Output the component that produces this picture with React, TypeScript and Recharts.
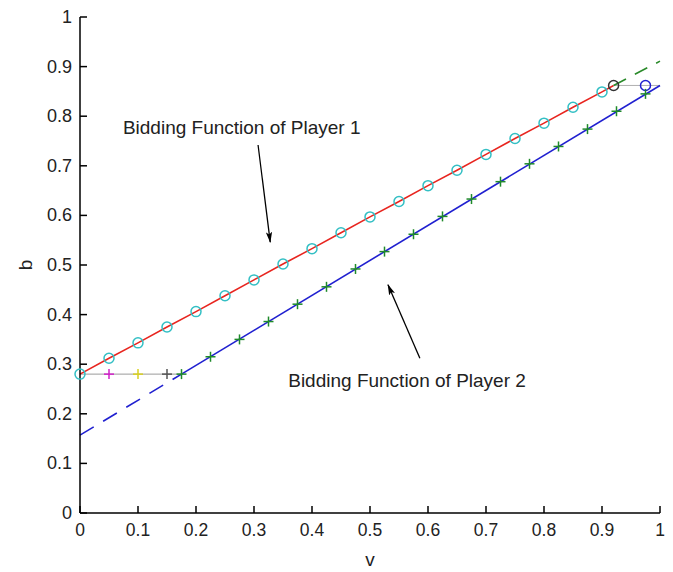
import React from 'react';
import { ComposedChart, Line, Scatter, XAxis, YAxis, ReferenceLine, ReferenceDot } from 'recharts';

const FONT = '"Liberation Sans", Arial, Helvetica, sans-serif';

// tick values and labels
const xTicks = [0, 0.1, 0.2, 0.3, 0.4, 0.5, 0.6, 0.7, 0.8, 0.9, 1];
const xLabels = ['0', '0.1', '0.2', '0.3', '0.4', '0.5', '0.6', '0.7', '0.8', '0.9', '1'];
const yTicks = [0, 0.1, 0.2, 0.3, 0.4, 0.5, 0.6, 0.7, 0.8, 0.9, 1];
const yLabels = ['0', '0.1', '0.2', '0.3', '0.4', '0.5', '0.6', '0.7', '0.8', '0.9', '1'];

// Player 1 bidding function (red) with cyan circles
const p1V = [0, 0.05, 0.1, 0.15, 0.2, 0.25, 0.3, 0.35, 0.4, 0.45, 0.5, 0.55, 0.6, 0.65, 0.7, 0.75, 0.8, 0.85, 0.9];
const p1B = [0.28, 0.312, 0.343, 0.375, 0.406, 0.438, 0.47, 0.502, 0.533, 0.565, 0.597, 0.628, 0.66, 0.691, 0.723, 0.755, 0.786, 0.818, 0.849];
const p1EndV = 0.92;
const p1EndB = 0.862;

// green dashed continuation of player 1
const p1ExtV = [0.92, 1];
const p1ExtB = [0.862, 0.911];

// grey cap line at the top
const capV = [0.92, 1];
const capB = [0.862, 0.862];
const blueCircleV = 0.975;
const blueCircleB = 0.862;

// Player 2 bidding function (blue)
const p2DashV = [0, 0.175];
const p2DashB = [0.157, 0.28];
const p2V = [0.175, 0.225, 0.275, 0.325, 0.375, 0.425, 0.475, 0.525, 0.575, 0.625, 0.675, 0.725, 0.775, 0.825, 0.875, 0.925, 0.975];
const p2B = [0.28, 0.315, 0.35, 0.386, 0.421, 0.456, 0.492, 0.527, 0.562, 0.598, 0.633, 0.668, 0.704, 0.739, 0.774, 0.81, 0.845];
const p2LineV = [0.175, 1];
const p2LineB = [0.28, 0.862];

// flat part at b = 0.28
const flatV = [0, 0.175];
const flatB = [0.28, 0.28];
const flatMarkV = [0.05, 0.1, 0.15];
const flatMarkB = [0.28, 0.28, 0.28];
const flatMarkColors = ['#d020c8', '#d8d020', '#555555'];

const zip = (xs: number[], ys: number[]) => xs.map((x, i) => ({ x, y: ys[i] }));

const p1Data = zip([...p1V, p1EndV], [...p1B, p1EndB]);
const p1Circles = zip(p1V, p1B);

const Tick = ({ x, y, payload, side }: any) => {
  const i = payload.index;
  if (side === 'left') {
    const ax = x + 8;
    return (
      <g>
        <line x1={ax} x2={ax + 7} y1={y} y2={y} stroke="#000" strokeWidth={1.5} />
        <text x={x} y={y} dy={6} textAnchor="end" fontSize={18} fill="#222" fontFamily={FONT}>{yLabels[i]}</text>
      </g>
    );
  }
  if (side === 'bottom') {
    const ay = y - 8;
    return (
      <g>
        <line x1={x} x2={x} y1={ay} y2={ay - 7} stroke="#000" strokeWidth={1.5} />
        <text x={x} y={y} dy={15} textAnchor="middle" fontSize={17.5} fill="#222" fontFamily={FONT}>{xLabels[i]}</text>
      </g>
    );
  }
  if (side === 'top') {
    return <line x1={x} x2={x} y1={y} y2={y + 7} stroke="#000" strokeWidth={1.5} />;
  }
  return <line x1={x} x2={x - 7} y1={y} y2={y} stroke="#000" strokeWidth={1.5} />;
};

const circle = (color: string) => (props: any) => (
  <circle cx={props.cx} cy={props.cy} r={5} fill="none" stroke={color} strokeWidth={1.5} />
);

const plus = (color: string) => (props: any) => (
  <g stroke={color} strokeWidth={1.5}>
    <line x1={props.cx - 5} x2={props.cx + 5} y1={props.cy} y2={props.cy} />
    <line x1={props.cx} x2={props.cx} y1={props.cy - 5} y2={props.cy + 5} />
  </g>
);

const YLabel = ({ viewBox }: any) => {
  const cx = viewBox.x + 25;
  const cy = viewBox.y + viewBox.height / 2;
  return (
    <text x={cx} y={cy} transform={`rotate(-90 ${cx} ${cy})`} textAnchor="middle" dominantBaseline="central" fontSize={19} fill="#222" fontFamily={FONT}>b</text>
  );
};

export default function App() {
  return (
    <div style={{ position: 'absolute', left: 0, top: 0, width: 673, height: 572, background: '#fff' }}>
      <ComposedChart width={673} height={572} margin={{ top: 17, right: 13, left: 0, bottom: 4 }}>
        <defs>
          <marker id="arrowHead" viewBox="0 0 14 8" refX="13" refY="4" markerWidth="11" markerHeight="6.5" markerUnits="userSpaceOnUse" orient="auto">
            <path d="M0,0 L14,4 L0,8 L3,4 z" fill="#000" />
          </marker>
        </defs>
        <XAxis xAxisId="b" dataKey="x" type="number" domain={[0, 1]} ticks={xTicks} tickSize={0} tickMargin={8}
          height={55} axisLine={{ stroke: '#000', strokeWidth: 1.5 }} tick={<Tick side="bottom" />} interval={0}
          label={{ value: 'v', position: 'insideBottom', offset: 2, fontSize: 19, fill: '#222', fontFamily: FONT }} />
        <XAxis xAxisId="t" orientation="top" dataKey="x" type="number" domain={[0, 1]} ticks={xTicks} tickSize={0} tickMargin={0}
          height={0} axisLine={{ stroke: '#000', strokeWidth: 1.5 }} tick={<Tick side="top" />} interval={0} />
        <YAxis yAxisId="l" type="number" domain={[0, 1]} ticks={yTicks} tickSize={0} tickMargin={8} width={80}
          axisLine={{ stroke: '#000', strokeWidth: 1.5 }} tick={<Tick side="left" />} interval={0} label={<YLabel />} />
        <YAxis yAxisId="r" orientation="right" type="number" domain={[0, 1]} ticks={yTicks} tickSize={0} tickMargin={0} width={0}
          axisLine={{ stroke: '#000', strokeWidth: 1.5 }} tick={<Tick side="right" />} interval={0} />

        <Line xAxisId="b" yAxisId="l" data={zip(flatV, flatB)} dataKey="y" stroke="#9a9a9a" strokeWidth={1} dot={false} activeDot={false} isAnimationActive={false} />
        <Line xAxisId="b" yAxisId="l" data={zip(capV, capB)} dataKey="y" stroke="#b0b0b0" strokeWidth={1} dot={false} activeDot={false} isAnimationActive={false} />
        <Line xAxisId="b" yAxisId="l" data={p1Data} dataKey="y" stroke="#e8251f" strokeWidth={1.6} dot={false} activeDot={false} isAnimationActive={false} />
        <Line xAxisId="b" yAxisId="l" data={zip(p1ExtV, p1ExtB)} dataKey="y" stroke="#2a8a2a" strokeWidth={1.6} strokeDasharray="14 10" dot={false} activeDot={false} isAnimationActive={false} />
        <Line xAxisId="b" yAxisId="l" data={zip(p2DashV, p2DashB)} dataKey="y" stroke="#2020d0" strokeWidth={1.6} strokeDasharray="16 11" dot={false} activeDot={false} isAnimationActive={false} />
        <Line xAxisId="b" yAxisId="l" data={zip(p2LineV, p2LineB)} dataKey="y" stroke="#2020d0" strokeWidth={1.6} dot={false} activeDot={false} isAnimationActive={false} />

        <Scatter xAxisId="b" yAxisId="l" data={p1Circles} dataKey="y" shape={circle('#33bfc4')} isAnimationActive={false} />
        <Scatter xAxisId="b" yAxisId="l" data={[{ x: p1EndV, y: p1EndB }]} dataKey="y" shape={circle('#333333')} isAnimationActive={false} />
        <Scatter xAxisId="b" yAxisId="l" data={[{ x: blueCircleV, y: blueCircleB }]} dataKey="y" shape={circle('#2020d0')} isAnimationActive={false} />
        <Scatter xAxisId="b" yAxisId="l" data={zip(p2V, p2B)} dataKey="y" shape={plus('#1f8a2a')} isAnimationActive={false} />
        {flatMarkV.map((v, i) => (
          <Scatter key={i} xAxisId="b" yAxisId="l" data={[{ x: v, y: flatMarkB[i] }]} dataKey="y" shape={plus(flatMarkColors[i])} isAnimationActive={false} />
        ))}

        <ReferenceLine xAxisId="b" yAxisId="l" segment={[{ x: 0.307, y: 0.742 }, { x: 0.328, y: 0.546 }]} stroke="#000" strokeWidth={1.3} markerEnd="url(#arrowHead)" />
        <ReferenceLine xAxisId="b" yAxisId="l" segment={[{ x: 0.586, y: 0.312 }, { x: 0.531, y: 0.46 }]} stroke="#000" strokeWidth={1.3} markerEnd="url(#arrowHead)" />
        <ReferenceDot xAxisId="b" yAxisId="l" x={0.074} y={0.778} r={0} stroke="none"
          label={{ value: 'Bidding Function of Player 1', position: 'right', offset: 0, fontSize: 19, fill: '#222', fontFamily: FONT }} />
        <ReferenceDot xAxisId="b" yAxisId="l" x={0.359} y={0.268} r={0} stroke="none"
          label={{ value: 'Bidding Function of Player 2', position: 'right', offset: 0, fontSize: 19, fill: '#222', fontFamily: FONT }} />
      </ComposedChart>
    </div>
  );
}
